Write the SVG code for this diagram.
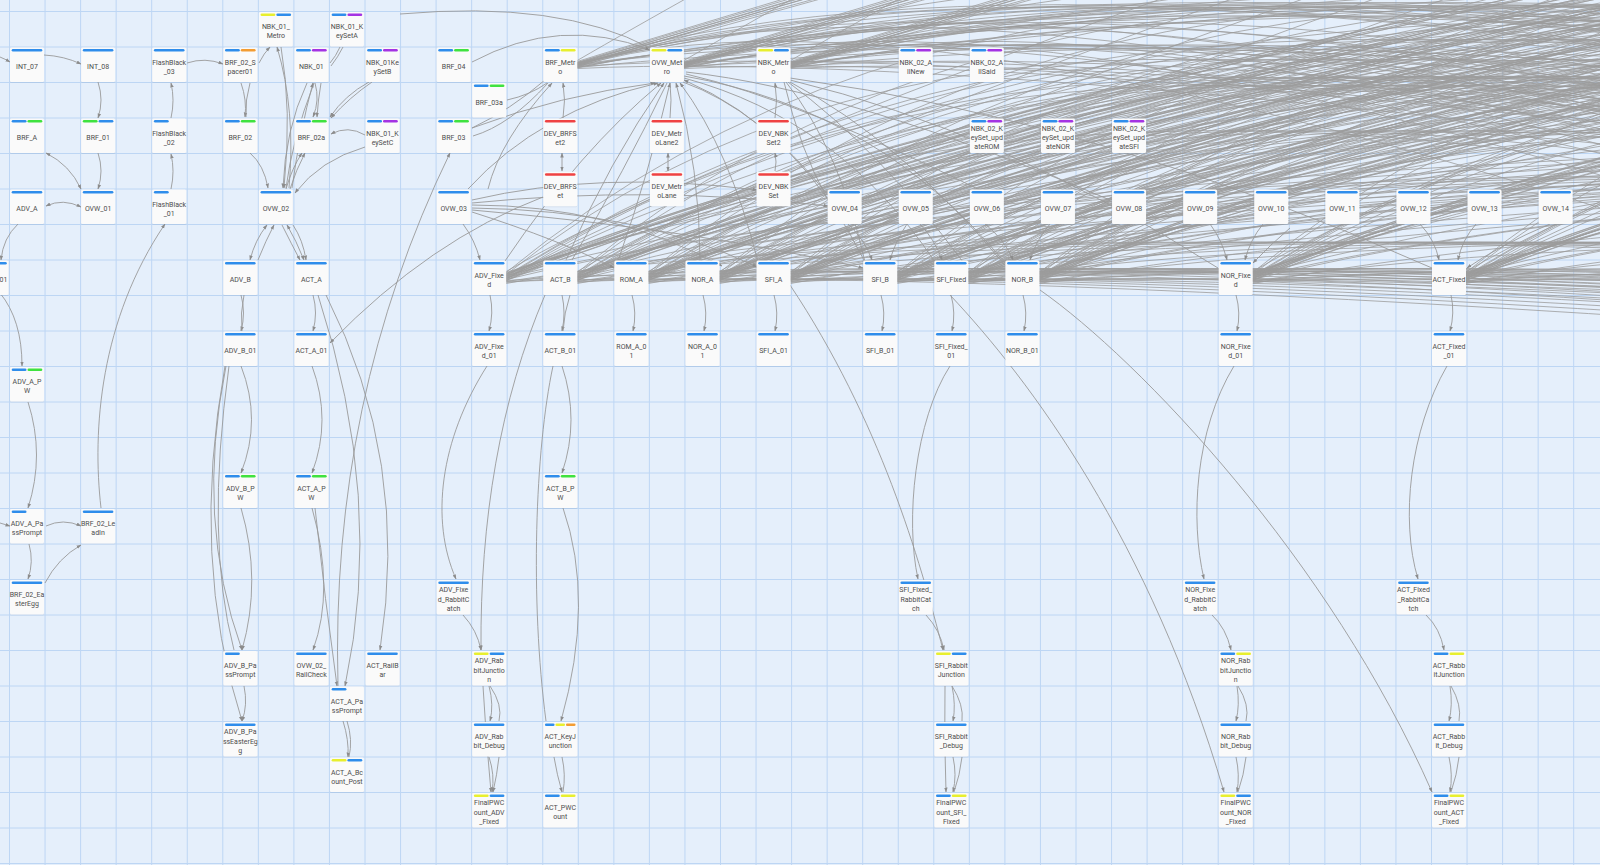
<svg xmlns="http://www.w3.org/2000/svg" width="1600" height="865" viewBox="0 0 1600 865">
<defs>
<style>
.bg{fill:#e5effb}
.grid{fill:none;stroke:#bdd6f4;stroke-width:1}
.n{fill:#fafafa;filter:url(#sh)}
.t{font-family:Roboto,"Noto Sans",sans-serif;font-size:7px;fill:#4d4d4d;text-anchor:middle}
.bl{fill:#2f8deb}.gr{fill:#3fe23f}.ye{fill:#e8ef2e}.pu{fill:#a433e3}.or{fill:#f39c32}.rd{fill:#ef4242}
.a{marker-end:url(#ar)}
.b{marker-start:url(#ar);marker-end:url(#ar)}
</style>
<filter id="sh" x="-10%" y="-10%" width="130%" height="130%"><feDropShadow dx="0" dy="0.6" stdDeviation="0.6" flood-color="#6f88aa" flood-opacity="0.25"/></filter>
<marker id="ar" viewBox="0 0 10 10" refX="9" refY="5" markerWidth="5" markerHeight="5" markerUnits="userSpaceOnUse" orient="auto-start-reverse"><path d="M0,1.5L10,5L0,8.5z" fill="#8c8c8c"/></marker>
<g id="fanL" fill="none">
<path d="M0,-4Q520,-215 2050,-470"/><path d="M0,-3Q540,-225 2100,-480"/><path d="M0,-2Q560,-230 2150,-490"/><path d="M0,-1Q560,-220 2200,-470"/>
<path d="M0,0Q580,-235 2250,-500"/><path d="M0,1Q600,-240 2300,-510"/><path d="M0,2Q520,-200 2100,-430"/><path d="M0,3Q500,-195 2000,-420"/>
<path d="M0,-1Q540,-210 2150,-450"/><path d="M0,1Q570,-228 2250,-485"/><path d="M0,-5Q400,-140 1800,-300"/><path d="M0,-2Q600,-160 2200,-260"/>
<path d="M0,0Q500,-120 2000,-150"/><path d="M0,2Q700,-170 2600,-60"/><path d="M0,4Q600,-90 2400,40"/><path d="M0,5Q500,-40 2000,60"/>
<path d="M0,6Q400,-70 1700,-120"/><path d="M0,-6Q300,-180 1500,-560"/><path d="M0,3Q800,-50 3000,200"/><path d="M0,-3Q350,-130 1400,-380"/>
<path d="M0,4Q700,-20 2600,160"/><path d="M0,-4Q450,-160 1900,-340"/>
<path d="M0,-2Q900,-560 2400,200"/><path d="M0,-1Q800,-500 2200,250"/><path d="M0,1Q1000,-520 2700,300"/><path d="M0,2Q700,-450 2000,150"/>
<path d="M0,3Q900,-420 2400,350"/><path d="M0,-3Q600,-480 1800,100"/><path d="M0,0Q1100,-600 3000,200"/><path d="M0,-5Q650,-540 1900,0"/>
</g>
<g id="fanM" fill="none">
<path d="M0,-3Q250,-80 1400,-420"/><path d="M0,-2Q270,-85 1500,-440"/><path d="M0,-1Q300,-90 1600,-460"/><path d="M0,0Q280,-80 1500,-400"/>
<path d="M0,1Q320,-95 1700,-480"/><path d="M0,2Q260,-70 1300,-360"/><path d="M0,-1Q290,-88 1550,-450"/><path d="M0,1Q310,-92 1650,-470"/>
<path d="M0,-2Q500,-100 1900,-250"/><path d="M0,0Q600,-80 2200,-150"/><path d="M0,2Q700,-120 2400,0"/><path d="M0,3Q800,-150 2600,150"/>
<path d="M0,-1Q900,-200 3000,250"/><path d="M0,4Q500,-20 2000,200"/><path d="M0,1Q400,-60 1800,60"/><path d="M0,-4Q200,-120 900,-500"/>
<path d="M0,3Q1000,-100 3000,350"/><path d="M0,2Q600,-40 2400,250"/>
<path d="M0,0Q500,-150 1800,300"/><path d="M0,1Q600,-180 2200,400"/><path d="M0,-1Q700,-200 2500,300"/><path d="M0,2Q400,-120 1600,350"/>
<path d="M0,0Q800,-220 2800,400"/><path d="M0,-2Q550,-170 2000,150"/><path d="M0,3Q650,-130 2300,500"/>
</g>
</defs>
<rect class="bg" x="0" y="0" width="1600" height="865"/>
<path class="grid" d="M9.5 0V865M45.05 0V865M80.6 0V865M116.15 0V865M151.7 0V865M187.25 0V865M222.8 0V865M258.35 0V865M293.9 0V865M329.45 0V865M365 0V865M400.55 0V865M436.1 0V865M471.65 0V865M507.2 0V865M542.75 0V865M578.3 0V865M613.85 0V865M649.4 0V865M684.95 0V865M720.5 0V865M756.05 0V865M791.6 0V865M827.15 0V865M862.7 0V865M898.25 0V865M933.8 0V865M969.35 0V865M1004.9 0V865M1040.45 0V865M1076 0V865M1111.55 0V865M1147.1 0V865M1182.65 0V865M1218.2 0V865M1253.75 0V865M1289.3 0V865M1324.85 0V865M1360.4 0V865M1395.95 0V865M1431.5 0V865M1467.05 0V865M1502.6 0V865M1538.15 0V865M1573.7 0V865M0 11.5H1600M0 47H1600M0 82.5H1600M0 118H1600M0 153.5H1600M0 189H1600M0 224.5H1600M0 260H1600M0 295.5H1600M0 331H1600M0 366.5H1600M0 402H1600M0 437.5H1600M0 473H1600M0 508.5H1600M0 544H1600M0 579.5H1600M0 615H1600M0 650.5H1600M0 686H1600M0 721.5H1600M0 757H1600M0 792.5H1600M0 828H1600M0 863.5H1600"/>

<g id="connectors" fill="none" stroke="#9a9a9a" stroke-width="0.9">
<g id="bundles" stroke="#9c9c9c" stroke-width="0.8">
<use href="#fanL" x="506.15" y="277.5"/><use href="#fanL" x="577.25" y="277.5"/><use href="#fanL" x="648.35" y="277.5"/><use href="#fanL" x="719.45" y="277.5"/><use href="#fanL" x="790.55" y="277.5"/>
<use href="#fanL" x="897.2" y="277.5"/><use href="#fanL" x="968.3" y="277.5"/><use href="#fanL" x="1039.4" y="277.5"/><use href="#fanL" x="1252.7" y="277.5"/><use href="#fanL" x="1466" y="277.5"/>
<use href="#fanM" x="577.25" y="64.5"/><use href="#fanM" x="683.9" y="64.5"/><use href="#fanM" x="790.55" y="64.5"/>
</g>
<!-- left cluster -->
<path class="a" d="M0,57Q5,59 10,62"/>
<path class="a" d="M44,55Q64,56 81,64"/>
<path class="a" d="M98,82Q104,100 98,118"/>
<path class="a" d="M98,153Q104,171 98,189"/>
<path class="b" d="M46,153Q70,165 81,189"/>
<path class="b" d="M46,206Q63,198 81,207"/>
<path class="a" d="M18,224Q3,238 1,260"/>
<path class="a" d="M171,189Q175,171 171,154"/>
<path class="a" d="M171,118Q175,100 171,83"/>
<path class="a" d="M187,63Q205,57 223,64"/>
<path class="a" d="M259,63Q264,53 270,47"/>
<path class="a" d="M241,83Q247,100 245,117"/>
<path d="M250,83Q245,100 246,117"/>
<path class="a" d="M250,153Q264,165 268,188"/>
<path class="a" d="M289,188Q296,110 277,47"/>
<path class="a" d="M281,47Q292,110 284,188"/>
<path class="a" d="M307,83Q285,130 283,188"/>
<path d="M314,83Q292,140 286,188"/>
<path class="a" d="M292,188Q300,130 313,83"/>
<path class="a" d="M315,83Q320,100 313,117"/>
<path class="a" d="M321,83Q318,100 317,117"/>
<path d="M340,47Q336,56 330,63"/>
<path d="M343,47Q338,57 331,66"/>
<path class="a" d="M369,82Q345,95 330,117"/>
<path class="a" d="M372,82Q350,97 331,118"/>
<path class="a" d="M365,135Q348,125 331,134"/>
<path class="a" d="M365,147Q320,160 295,193"/>
<path class="a" d="M286,189Q292,168 302,153"/>
<path class="a" d="M290,189Q296,170 305,153"/>
<path class="b" d="M267,225Q255,240 250,260"/>
<path class="a" d="M258,260Q266,240 274,225"/>
<path class="a" d="M282,225Q292,245 300,260"/>
<path class="b" d="M287,225Q296,240 304,260"/>
<path class="a" d="M293,225Q303,240 306,260"/>
<path class="a" d="M241,295Q246,313 241,331"/>
<path d="M244,295Q240,313 242,331"/>
<path class="a" d="M313,295Q318,313 313,331"/>
<path class="a" d="M241,366Q262,420 241,473"/>
<path class="a" d="M312,366Q332,420 312,473"/>
<path class="a" d="M226,366Q195,520 242,650"/>
<path class="a" d="M225,366Q190,560 242,721"/>
<path d="M229,366Q205,540 234,650"/>
<path class="a" d="M241,508Q262,580 242,650"/>
<path class="a" d="M244,686Q248,705 242,721"/>
<path class="a" d="M318,295Q385,500 345,686"/>
<path class="a" d="M326,295Q410,460 380,650"/>
<path class="a" d="M312,508Q335,590 313,650"/>
<path class="a" d="M315,508Q325,600 337,686"/>
<path class="a" d="M343,721Q349,740 348,757"/>
<path d="M347,721Q353,740 349,757"/>
<path class="a" d="M338,686Q330,400 450,153"/>
<path class="a" d="M543,197Q430,240 330,343"/>
<path class="a" d="M101,508C92,430 100,320 165,224"/>
<path class="a" d="M46,526Q63,518 81,526"/>
<path class="a" d="M0,523L10,526"/>
<path class="a" d="M28,402Q45,455 28,508"/>
<path class="a" d="M0,293Q22,320 22,366"/>
<path class="a" d="M29,544Q34,562 28,579"/>
<path class="a" d="M45,583Q58,558 81,545"/>
<!-- middle / right trees -->
<path class="a" d="M463,224Q475,240 480,260"/>
<path class="a" d="M490,295Q494,313 489,331"/>
<path class="a" d="M487,366C440,440 430,520 456,579"/>
<path class="a" d="M463,615Q477,630 481,650"/>
<path class="a" d="M545,295C500,400 480,520 481,650"/>
<path class="a" d="M489,686Q494,705 490,721"/>
<path d="M490,686Q503,705 499,721"/>
<path class="a" d="M483,686Q486,740 491,792"/>
<path class="a" d="M489,757Q495,775 492,792"/>
<path class="a" d="M499,757Q497,775 493,792"/>
<path class="a" d="M562,295Q566,313 562,331"/>
<path d="M570,295Q564,313 563,331"/>
<path class="a" d="M562,366Q580,420 562,473"/>
<path d="M553,366C535,450 530,600 546,721"/>
<path class="a" d="M563,508Q595,600 561,721"/>
<path class="a" d="M554,757Q557,775 562,792"/>
<path d="M562,757Q566,775 563,792"/>
<path class="a" d="M632,295Q637,313 633,331"/>
<path class="a" d="M703,295Q708,313 704,331"/>
<path class="a" d="M774,295Q779,313 775,331"/>
<path class="a" d="M881,295Q886,313 882,331"/>
<path class="a" d="M951,295Q956,313 952,331"/>
<path class="a" d="M1023,295Q1028,313 1024,331"/>
<path class="a" d="M1236,295Q1241,313 1237,331"/>
<path class="a" d="M1451,295Q1455,313 1450,331"/>
<path class="a" d="M950,366C915,420 905,520 918,579"/>
<path class="a" d="M790,285C880,420 920,560 943,650"/>
<path class="a" d="M926,615Q940,630 944,650"/>
<path class="a" d="M952,686Q956,705 953,721"/>
<path d="M952,686Q964,705 962,721"/>
<path class="a" d="M945,686Q944,740 946,792"/>
<path class="a" d="M953,757Q957,775 953,792"/>
<path d="M962,757Q960,775 954,792"/>
<path class="a" d="M950,295C1030,380 1150,540 1224,792"/>
<path class="a" d="M1040,290C1140,360 1330,560 1432,792"/>
<path class="a" d="M1234,366C1195,430 1190,520 1204,579"/>
<path class="a" d="M1212,615Q1226,628 1231,650"/>
<path class="a" d="M1237,686Q1240,705 1236,721"/>
<path d="M1238,686Q1250,705 1246,721"/>
<path class="a" d="M1236,757Q1240,775 1237,792"/>
<path d="M1246,757Q1244,775 1238,792"/>
<path class="a" d="M1447,366C1410,430 1400,520 1418,579"/>
<path class="a" d="M1426,615Q1440,628 1444,650"/>
<path class="a" d="M1450,686Q1453,705 1449,721"/>
<path d="M1451,686Q1462,705 1459,721"/>
<path class="a" d="M1449,757Q1453,775 1450,792"/>
<path d="M1459,757Q1457,775 1451,792"/>
<!-- overview to hubs -->
<path class="a" d="M848,224Q865,240 872,260"/>
<path class="a" d="M907,224Q895,242 890,260"/>
<path class="a" d="M920,224Q935,240 942,260"/>
<path class="a" d="M985,224Q1005,240 1013,260"/>
<path class="a" d="M1050,224Q1035,242 1030,260"/>
<path class="a" d="M1210,224Q1222,240 1227,260"/>
<path class="a" d="M1263,224Q1250,240 1245,260"/>
<path class="a" d="M1290,228Q1270,245 1253,263"/>
<path class="a" d="M1420,224Q1435,240 1439,260"/>
<path class="a" d="M1476,224Q1462,240 1458,260"/>
<path class="a" d="M1550,224Q1500,245 1467,268"/>
<!-- dev -->
<path class="b" d="M562,153L562,171"/>
<path class="b" d="M668,153L668,171"/>
<path class="a" d="M775,171Q777,162 775,153"/>
<path class="a" d="M563,118Q566,100 563,83"/>
<path d="M670,83Q672,100 670,118"/>
<path class="a" d="M775,118Q778,100 775,83"/>
<!-- metro fans -->
<path class="a" d="M472,128Q560,95 655,83"/>
<path class="a" d="M468,189Q540,110 658,83"/>
<path class="a" d="M505,261Q580,150 661,83"/>
<path class="a" d="M566,260Q610,160 664,83"/>
<path d="M572,260Q625,170 667,83"/>
<path class="a" d="M618,261Q650,170 670,83"/>
<path class="a" d="M700,260Q700,170 676,83"/>
<path class="a" d="M758,262Q730,150 680,83"/>
<path d="M828,195Q760,110 683,82"/>
<path class="a" d="M865,262Q800,130 684,80"/>
<path d="M935,262Q840,120 684,78"/>
<path d="M1005,263Q880,110 684,76"/>
<path d="M686,74Q800,100 1000,200"/>
<path d="M686,72Q850,90 1110,200"/>
<path d="M788,82Q880,150 963,262"/>
<path d="M790,82Q900,140 1005,265"/>
<path d="M786,82Q840,150 865,262"/>
<path d="M784,82Q800,150 828,200"/>
<path d="M790,80Q1000,130 1218,268"/>
<path d="M790,78Q1100,120 1432,268"/>
<path d="M547,83Q530,95 507,100"/>
<path d="M545,80Q510,110 472,128"/>
<path d="M548,83Q510,125 473,136"/>
<path class="a" d="M488,189Q500,140 552,83"/>
<path class="a" d="M472,62Q560,15 650,50"/>
<path d="M400,14Q560,0 650,48"/>
<path class="a" d="M472,205Q610,205 722,266"/>
<path class="a" d="M472,208Q640,210 757,267"/>
<path class="a" d="M472,203Q650,185 828,206"/>
<path class="a" d="M472,210Q700,230 863,268"/>
<path class="a" d="M472,200Q600,170 757,190"/>
<path class="a" d="M472,212Q560,240 614,268"/>
</g>

<g id="nodes">
<g id="INT_07" transform="translate(9.5,47)"><rect class="n" x="0.5" y="0.5" width="34" height="34.5" rx="1.5"/><rect class="bl" x="2.2" y="2" width="30.6" height="2.6" rx="1.3"/><text class="t" x="17.5" y="22.1">INT_07</text></g>
<g id="INT_08" transform="translate(80.6,47)"><rect class="n" x="0.5" y="0.5" width="34" height="34.5" rx="1.5"/><rect class="bl" x="2.2" y="2" width="30.6" height="2.6" rx="1.3"/><text class="t" x="17.5" y="22.1">INT_08</text></g>
<g id="FlashBlack_03" transform="translate(151.7,47)"><rect class="n" x="0.5" y="0.5" width="34" height="34.5" rx="1.5"/><rect class="bl" x="2.2" y="2" width="30.6" height="2.6" rx="1.3"/><text class="t" x="17.5" y="17.5">FlashBlack<tspan x="17.5" dy="9.2">_03</tspan></text></g>
<g id="BRF_02_Spacer01" transform="translate(222.8,47)"><rect class="n" x="0.5" y="0.5" width="34" height="34.5" rx="1.5"/><rect class="bl" x="2.2" y="2" width="14.8" height="2.6" rx="1.3"/><rect class="or" x="18" y="2" width="14.8" height="2.6" rx="1.3"/><text class="t" x="17.5" y="17.5">BRF_02_S<tspan x="17.5" dy="9.2">pacer01</tspan></text></g>
<g id="NBK_01_Metro" transform="translate(258.35,11.5)"><rect class="n" x="0.5" y="0.5" width="34" height="34.5" rx="1.5"/><rect class="ye" x="2.2" y="2" width="14.8" height="2.6" rx="1.3"/><rect class="bl" x="18" y="2" width="14.8" height="2.6" rx="1.3"/><text class="t" x="17.5" y="17.5">NBK_01_<tspan x="17.5" dy="9.2">Metro</tspan></text></g>
<g id="NBK_01" transform="translate(293.9,47)"><rect class="n" x="0.5" y="0.5" width="34" height="34.5" rx="1.5"/><rect class="bl" x="2.2" y="2" width="14.8" height="2.6" rx="1.3"/><rect class="pu" x="18" y="2" width="14.8" height="2.6" rx="1.3"/><text class="t" x="17.5" y="22.1">NBK_01</text></g>
<g id="NBK_01_KeySetA" transform="translate(329.45,11.5)"><rect class="n" x="0.5" y="0.5" width="34" height="34.5" rx="1.5"/><rect class="bl" x="2.2" y="2" width="14.8" height="2.6" rx="1.3"/><rect class="pu" x="18" y="2" width="14.8" height="2.6" rx="1.3"/><text class="t" x="17.5" y="17.5">NBK_01_K<tspan x="17.5" dy="9.2">eySetA</tspan></text></g>
<g id="NBK_01KeySetB" transform="translate(365,47)"><rect class="n" x="0.5" y="0.5" width="34" height="34.5" rx="1.5"/><rect class="bl" x="2.2" y="2" width="14.8" height="2.6" rx="1.3"/><rect class="pu" x="18" y="2" width="14.8" height="2.6" rx="1.3"/><text class="t" x="17.5" y="17.5">NBK_01Ke<tspan x="17.5" dy="9.2">ySetB</tspan></text></g>
<g id="BRF_04" transform="translate(436.1,47)"><rect class="n" x="0.5" y="0.5" width="34" height="34.5" rx="1.5"/><rect class="bl" x="2.2" y="2" width="14.8" height="2.6" rx="1.3"/><rect class="gr" x="18" y="2" width="14.8" height="2.6" rx="1.3"/><text class="t" x="17.5" y="22.1">BRF_04</text></g>
<g id="BRF_Metro" transform="translate(542.75,47)"><rect class="n" x="0.5" y="0.5" width="34" height="34.5" rx="1.5"/><rect class="bl" x="2.2" y="2" width="14.8" height="2.6" rx="1.3"/><rect class="ye" x="18" y="2" width="14.8" height="2.6" rx="1.3"/><text class="t" x="17.5" y="17.5">BRF_Metr<tspan x="17.5" dy="9.2">o</tspan></text></g>
<g id="OVW_Metro" transform="translate(649.4,47)"><rect class="n" x="0.5" y="0.5" width="34" height="34.5" rx="1.5"/><rect class="ye" x="2.2" y="2" width="14.8" height="2.6" rx="1.3"/><rect class="bl" x="18" y="2" width="14.8" height="2.6" rx="1.3"/><text class="t" x="17.5" y="17.5">OVW_Met<tspan x="17.5" dy="9.2">ro</tspan></text></g>
<g id="NBK_Metro" transform="translate(756.05,47)"><rect class="n" x="0.5" y="0.5" width="34" height="34.5" rx="1.5"/><rect class="ye" x="2.2" y="2" width="14.8" height="2.6" rx="1.3"/><rect class="bl" x="18" y="2" width="14.8" height="2.6" rx="1.3"/><text class="t" x="17.5" y="17.5">NBK_Metr<tspan x="17.5" dy="9.2">o</tspan></text></g>
<g id="NBK_02_AllNew" transform="translate(898.25,47)"><rect class="n" x="0.5" y="0.5" width="34" height="34.5" rx="1.5"/><rect class="bl" x="2.2" y="2" width="14.8" height="2.6" rx="1.3"/><rect class="pu" x="18" y="2" width="14.8" height="2.6" rx="1.3"/><text class="t" x="17.5" y="17.5">NBK_02_A<tspan x="17.5" dy="9.2">llNew</tspan></text></g>
<g id="NBK_02_AllSaid" transform="translate(969.35,47)"><rect class="n" x="0.5" y="0.5" width="34" height="34.5" rx="1.5"/><rect class="bl" x="2.2" y="2" width="14.8" height="2.6" rx="1.3"/><rect class="pu" x="18" y="2" width="14.8" height="2.6" rx="1.3"/><text class="t" x="17.5" y="17.5">NBK_02_A<tspan x="17.5" dy="9.2">llSaid</tspan></text></g>
<g id="BRF_03a" transform="translate(471.65,82.5)"><rect class="n" x="0.5" y="0.5" width="34" height="34.5" rx="1.5"/><rect class="bl" x="2.2" y="2" width="14.8" height="2.6" rx="1.3"/><rect class="gr" x="18" y="2" width="14.8" height="2.6" rx="1.3"/><text class="t" x="17.5" y="22.1">BRF_03a</text></g>
<g id="BRF_A" transform="translate(9.5,118)"><rect class="n" x="0.5" y="0.5" width="34" height="34.5" rx="1.5"/><rect class="bl" x="2.2" y="2" width="14.8" height="2.6" rx="1.3"/><rect class="gr" x="18" y="2" width="14.8" height="2.6" rx="1.3"/><text class="t" x="17.5" y="22.1">BRF_A</text></g>
<g id="BRF_01" transform="translate(80.6,118)"><rect class="n" x="0.5" y="0.5" width="34" height="34.5" rx="1.5"/><rect class="gr" x="2.2" y="2" width="14.8" height="2.6" rx="1.3"/><rect class="bl" x="18" y="2" width="14.8" height="2.6" rx="1.3"/><text class="t" x="17.5" y="22.1">BRF_01</text></g>
<g id="FlashBlack_02" transform="translate(151.7,118)"><rect class="n" x="0.5" y="0.5" width="34" height="34.5" rx="1.5"/><rect class="bl" x="2.2" y="2" width="14.8" height="2.6" rx="1.3"/><text class="t" x="17.5" y="17.5">FlashBlack<tspan x="17.5" dy="9.2">_02</tspan></text></g>
<g id="BRF_02" transform="translate(222.8,118)"><rect class="n" x="0.5" y="0.5" width="34" height="34.5" rx="1.5"/><rect class="bl" x="2.2" y="2" width="14.8" height="2.6" rx="1.3"/><rect class="gr" x="18" y="2" width="14.8" height="2.6" rx="1.3"/><text class="t" x="17.5" y="22.1">BRF_02</text></g>
<g id="BRF_02a" transform="translate(293.9,118)"><rect class="n" x="0.5" y="0.5" width="34" height="34.5" rx="1.5"/><rect class="bl" x="2.2" y="2" width="14.8" height="2.6" rx="1.3"/><rect class="gr" x="18" y="2" width="14.8" height="2.6" rx="1.3"/><text class="t" x="17.5" y="22.1">BRF_02a</text></g>
<g id="NBK_01_KeySetC" transform="translate(365,118)"><rect class="n" x="0.5" y="0.5" width="34" height="34.5" rx="1.5"/><rect class="bl" x="2.2" y="2" width="14.8" height="2.6" rx="1.3"/><rect class="pu" x="18" y="2" width="14.8" height="2.6" rx="1.3"/><text class="t" x="17.5" y="17.5">NBK_01_K<tspan x="17.5" dy="9.2">eySetC</tspan></text></g>
<g id="BRF_03" transform="translate(436.1,118)"><rect class="n" x="0.5" y="0.5" width="34" height="34.5" rx="1.5"/><rect class="bl" x="2.2" y="2" width="14.8" height="2.6" rx="1.3"/><rect class="gr" x="18" y="2" width="14.8" height="2.6" rx="1.3"/><text class="t" x="17.5" y="22.1">BRF_03</text></g>
<g id="DEV_BRFSet2" transform="translate(542.75,118)"><rect class="n" x="0.5" y="0.5" width="34" height="34.5" rx="1.5"/><rect class="rd" x="2.2" y="2" width="30.6" height="2.6" rx="1.3"/><text class="t" x="17.5" y="17.5">DEV_BRFS<tspan x="17.5" dy="9.2">et2</tspan></text></g>
<g id="DEV_MetroLane2" transform="translate(649.4,118)"><rect class="n" x="0.5" y="0.5" width="34" height="34.5" rx="1.5"/><rect class="rd" x="2.2" y="2" width="30.6" height="2.6" rx="1.3"/><text class="t" x="17.5" y="17.5">DEV_Metr<tspan x="17.5" dy="9.2">oLane2</tspan></text></g>
<g id="DEV_NBKSet2" transform="translate(756.05,118)"><rect class="n" x="0.5" y="0.5" width="34" height="34.5" rx="1.5"/><rect class="rd" x="2.2" y="2" width="30.6" height="2.6" rx="1.3"/><text class="t" x="17.5" y="17.5">DEV_NBK<tspan x="17.5" dy="9.2">Set2</tspan></text></g>
<g id="NBK_02_KeySet_updateROM" transform="translate(969.35,118)"><rect class="n" x="0.5" y="0.5" width="34" height="34.5" rx="1.5"/><rect class="bl" x="2.2" y="2" width="14.8" height="2.6" rx="1.3"/><rect class="pu" x="18" y="2" width="14.8" height="2.6" rx="1.3"/><text class="t" x="17.5" y="12.9">NBK_02_K<tspan x="17.5" dy="9.2">eySet_upd</tspan><tspan x="17.5" dy="9.2">ateROM</tspan></text></g>
<g id="NBK_02_KeySet_updateNOR" transform="translate(1040.45,118)"><rect class="n" x="0.5" y="0.5" width="34" height="34.5" rx="1.5"/><rect class="bl" x="2.2" y="2" width="14.8" height="2.6" rx="1.3"/><rect class="pu" x="18" y="2" width="14.8" height="2.6" rx="1.3"/><text class="t" x="17.5" y="12.9">NBK_02_K<tspan x="17.5" dy="9.2">eySet_upd</tspan><tspan x="17.5" dy="9.2">ateNOR</tspan></text></g>
<g id="NBK_02_KeySet_updateSFI" transform="translate(1111.55,118)"><rect class="n" x="0.5" y="0.5" width="34" height="34.5" rx="1.5"/><rect class="bl" x="2.2" y="2" width="14.8" height="2.6" rx="1.3"/><rect class="pu" x="18" y="2" width="14.8" height="2.6" rx="1.3"/><text class="t" x="17.5" y="12.9">NBK_02_K<tspan x="17.5" dy="9.2">eySet_upd</tspan><tspan x="17.5" dy="9.2">ateSFI</tspan></text></g>
<g id="DEV_BRFSet" transform="translate(542.75,171.25)"><rect class="n" x="0.5" y="0.5" width="34" height="34.5" rx="1.5"/><rect class="rd" x="2.2" y="2" width="30.6" height="2.6" rx="1.3"/><text class="t" x="17.5" y="17.5">DEV_BRFS<tspan x="17.5" dy="9.2">et</tspan></text></g>
<g id="DEV_MetroLane" transform="translate(649.4,171.25)"><rect class="n" x="0.5" y="0.5" width="34" height="34.5" rx="1.5"/><rect class="rd" x="2.2" y="2" width="30.6" height="2.6" rx="1.3"/><text class="t" x="17.5" y="17.5">DEV_Metr<tspan x="17.5" dy="9.2">oLane</tspan></text></g>
<g id="DEV_NBKSet" transform="translate(756.05,171.25)"><rect class="n" x="0.5" y="0.5" width="34" height="34.5" rx="1.5"/><rect class="rd" x="2.2" y="2" width="30.6" height="2.6" rx="1.3"/><text class="t" x="17.5" y="17.5">DEV_NBK<tspan x="17.5" dy="9.2">Set</tspan></text></g>
<g id="ADV_A" transform="translate(9.5,189)"><rect class="n" x="0.5" y="0.5" width="34" height="34.5" rx="1.5"/><rect class="bl" x="2.2" y="2" width="30.6" height="2.6" rx="1.3"/><text class="t" x="17.5" y="22.1">ADV_A</text></g>
<g id="OVW_01" transform="translate(80.6,189)"><rect class="n" x="0.5" y="0.5" width="34" height="34.5" rx="1.5"/><rect class="bl" x="2.2" y="2" width="30.6" height="2.6" rx="1.3"/><text class="t" x="17.5" y="22.1">OVW_01</text></g>
<g id="FlashBlack_01" transform="translate(151.7,189)"><rect class="n" x="0.5" y="0.5" width="34" height="34.5" rx="1.5"/><rect class="bl" x="2.2" y="2" width="14.8" height="2.6" rx="1.3"/><text class="t" x="17.5" y="17.5">FlashBlack<tspan x="17.5" dy="9.2">_01</tspan></text></g>
<g id="OVW_02" transform="translate(258.35,189)"><rect class="n" x="0.5" y="0.5" width="34" height="34.5" rx="1.5"/><rect class="bl" x="2.2" y="2" width="30.6" height="2.6" rx="1.3"/><text class="t" x="17.5" y="22.1">OVW_02</text></g>
<g id="OVW_03" transform="translate(436.1,189)"><rect class="n" x="0.5" y="0.5" width="34" height="34.5" rx="1.5"/><rect class="bl" x="2.2" y="2" width="30.6" height="2.6" rx="1.3"/><text class="t" x="17.5" y="22.1">OVW_03</text></g>
<g id="OVW_04" transform="translate(827.15,189)"><rect class="n" x="0.5" y="0.5" width="34" height="34.5" rx="1.5"/><rect class="bl" x="2.2" y="2" width="30.6" height="2.6" rx="1.3"/><text class="t" x="17.5" y="22.1">OVW_04</text></g>
<g id="OVW_05" transform="translate(898.25,189)"><rect class="n" x="0.5" y="0.5" width="34" height="34.5" rx="1.5"/><rect class="bl" x="2.2" y="2" width="30.6" height="2.6" rx="1.3"/><text class="t" x="17.5" y="22.1">OVW_05</text></g>
<g id="OVW_06" transform="translate(969.35,189)"><rect class="n" x="0.5" y="0.5" width="34" height="34.5" rx="1.5"/><rect class="bl" x="2.2" y="2" width="30.6" height="2.6" rx="1.3"/><text class="t" x="17.5" y="22.1">OVW_06</text></g>
<g id="OVW_07" transform="translate(1040.45,189)"><rect class="n" x="0.5" y="0.5" width="34" height="34.5" rx="1.5"/><rect class="bl" x="2.2" y="2" width="30.6" height="2.6" rx="1.3"/><text class="t" x="17.5" y="22.1">OVW_07</text></g>
<g id="OVW_08" transform="translate(1111.55,189)"><rect class="n" x="0.5" y="0.5" width="34" height="34.5" rx="1.5"/><rect class="bl" x="2.2" y="2" width="30.6" height="2.6" rx="1.3"/><text class="t" x="17.5" y="22.1">OVW_08</text></g>
<g id="OVW_09" transform="translate(1182.65,189)"><rect class="n" x="0.5" y="0.5" width="34" height="34.5" rx="1.5"/><rect class="bl" x="2.2" y="2" width="30.6" height="2.6" rx="1.3"/><text class="t" x="17.5" y="22.1">OVW_09</text></g>
<g id="OVW_10" transform="translate(1253.75,189)"><rect class="n" x="0.5" y="0.5" width="34" height="34.5" rx="1.5"/><rect class="bl" x="2.2" y="2" width="30.6" height="2.6" rx="1.3"/><text class="t" x="17.5" y="22.1">OVW_10</text></g>
<g id="OVW_11" transform="translate(1324.85,189)"><rect class="n" x="0.5" y="0.5" width="34" height="34.5" rx="1.5"/><rect class="bl" x="2.2" y="2" width="30.6" height="2.6" rx="1.3"/><text class="t" x="17.5" y="22.1">OVW_11</text></g>
<g id="OVW_12" transform="translate(1395.95,189)"><rect class="n" x="0.5" y="0.5" width="34" height="34.5" rx="1.5"/><rect class="bl" x="2.2" y="2" width="30.6" height="2.6" rx="1.3"/><text class="t" x="17.5" y="22.1">OVW_12</text></g>
<g id="OVW_13" transform="translate(1467.05,189)"><rect class="n" x="0.5" y="0.5" width="34" height="34.5" rx="1.5"/><rect class="bl" x="2.2" y="2" width="30.6" height="2.6" rx="1.3"/><text class="t" x="17.5" y="22.1">OVW_13</text></g>
<g id="OVW_14" transform="translate(1538.15,189)"><rect class="n" x="0.5" y="0.5" width="34" height="34.5" rx="1.5"/><rect class="bl" x="2.2" y="2" width="30.6" height="2.6" rx="1.3"/><text class="t" x="17.5" y="22.1">OVW_14</text></g>
<g id="ADV_A_01" transform="translate(-26.05,260)"><rect class="n" x="0.5" y="0.5" width="34" height="34.5" rx="1.5"/><rect class="bl" x="2.2" y="2" width="30.6" height="2.6" rx="1.3"/><text class="t" x="33.4" y="22.1" style="text-anchor:end">01</text></g>
<g id="ADV_B" transform="translate(222.8,260)"><rect class="n" x="0.5" y="0.5" width="34" height="34.5" rx="1.5"/><rect class="bl" x="2.2" y="2" width="30.6" height="2.6" rx="1.3"/><text class="t" x="17.5" y="22.1">ADV_B</text></g>
<g id="ACT_A" transform="translate(293.9,260)"><rect class="n" x="0.5" y="0.5" width="34" height="34.5" rx="1.5"/><rect class="bl" x="2.2" y="2" width="30.6" height="2.6" rx="1.3"/><text class="t" x="17.5" y="22.1">ACT_A</text></g>
<g id="ADV_Fixed" transform="translate(471.65,260)"><rect class="n" x="0.5" y="0.5" width="34" height="34.5" rx="1.5"/><rect class="bl" x="2.2" y="2" width="30.6" height="2.6" rx="1.3"/><text class="t" x="17.5" y="17.5">ADV_Fixe<tspan x="17.5" dy="9.2">d</tspan></text></g>
<g id="ACT_B" transform="translate(542.75,260)"><rect class="n" x="0.5" y="0.5" width="34" height="34.5" rx="1.5"/><rect class="bl" x="2.2" y="2" width="30.6" height="2.6" rx="1.3"/><text class="t" x="17.5" y="22.1">ACT_B</text></g>
<g id="ROM_A" transform="translate(613.85,260)"><rect class="n" x="0.5" y="0.5" width="34" height="34.5" rx="1.5"/><rect class="bl" x="2.2" y="2" width="30.6" height="2.6" rx="1.3"/><text class="t" x="17.5" y="22.1">ROM_A</text></g>
<g id="NOR_A" transform="translate(684.95,260)"><rect class="n" x="0.5" y="0.5" width="34" height="34.5" rx="1.5"/><rect class="bl" x="2.2" y="2" width="30.6" height="2.6" rx="1.3"/><text class="t" x="17.5" y="22.1">NOR_A</text></g>
<g id="SFI_A" transform="translate(756.05,260)"><rect class="n" x="0.5" y="0.5" width="34" height="34.5" rx="1.5"/><rect class="bl" x="2.2" y="2" width="30.6" height="2.6" rx="1.3"/><text class="t" x="17.5" y="22.1">SFI_A</text></g>
<g id="SFI_B" transform="translate(862.7,260)"><rect class="n" x="0.5" y="0.5" width="34" height="34.5" rx="1.5"/><rect class="bl" x="2.2" y="2" width="30.6" height="2.6" rx="1.3"/><text class="t" x="17.5" y="22.1">SFI_B</text></g>
<g id="SFI_Fixed" transform="translate(933.8,260)"><rect class="n" x="0.5" y="0.5" width="34" height="34.5" rx="1.5"/><rect class="bl" x="2.2" y="2" width="30.6" height="2.6" rx="1.3"/><text class="t" x="17.5" y="22.1">SFI_Fixed</text></g>
<g id="NOR_B" transform="translate(1004.9,260)"><rect class="n" x="0.5" y="0.5" width="34" height="34.5" rx="1.5"/><rect class="bl" x="2.2" y="2" width="30.6" height="2.6" rx="1.3"/><text class="t" x="17.5" y="22.1">NOR_B</text></g>
<g id="NOR_Fixed" transform="translate(1218.2,260)"><rect class="n" x="0.5" y="0.5" width="34" height="34.5" rx="1.5"/><rect class="bl" x="2.2" y="2" width="30.6" height="2.6" rx="1.3"/><text class="t" x="17.5" y="17.5">NOR_Fixe<tspan x="17.5" dy="9.2">d</tspan></text></g>
<g id="ACT_Fixed" transform="translate(1431.5,260)"><rect class="n" x="0.5" y="0.5" width="34" height="34.5" rx="1.5"/><rect class="bl" x="2.2" y="2" width="30.6" height="2.6" rx="1.3"/><text class="t" x="17.5" y="22.1">ACT_Fixed</text></g>
<g id="ADV_B_01" transform="translate(222.8,331)"><rect class="n" x="0.5" y="0.5" width="34" height="34.5" rx="1.5"/><rect class="bl" x="2.2" y="2" width="30.6" height="2.6" rx="1.3"/><text class="t" x="17.5" y="22.1">ADV_B_01</text></g>
<g id="ACT_A_01" transform="translate(293.9,331)"><rect class="n" x="0.5" y="0.5" width="34" height="34.5" rx="1.5"/><rect class="bl" x="2.2" y="2" width="30.6" height="2.6" rx="1.3"/><text class="t" x="17.5" y="22.1">ACT_A_01</text></g>
<g id="ADV_Fixed_01" transform="translate(471.65,331)"><rect class="n" x="0.5" y="0.5" width="34" height="34.5" rx="1.5"/><rect class="bl" x="2.2" y="2" width="30.6" height="2.6" rx="1.3"/><text class="t" x="17.5" y="17.5">ADV_Fixe<tspan x="17.5" dy="9.2">d_01</tspan></text></g>
<g id="ACT_B_01" transform="translate(542.75,331)"><rect class="n" x="0.5" y="0.5" width="34" height="34.5" rx="1.5"/><rect class="bl" x="2.2" y="2" width="30.6" height="2.6" rx="1.3"/><text class="t" x="17.5" y="22.1">ACT_B_01</text></g>
<g id="ROM_A_01" transform="translate(613.85,331)"><rect class="n" x="0.5" y="0.5" width="34" height="34.5" rx="1.5"/><rect class="bl" x="2.2" y="2" width="30.6" height="2.6" rx="1.3"/><text class="t" x="17.5" y="17.5">ROM_A_0<tspan x="17.5" dy="9.2">1</tspan></text></g>
<g id="NOR_A_01" transform="translate(684.95,331)"><rect class="n" x="0.5" y="0.5" width="34" height="34.5" rx="1.5"/><rect class="bl" x="2.2" y="2" width="30.6" height="2.6" rx="1.3"/><text class="t" x="17.5" y="17.5">NOR_A_0<tspan x="17.5" dy="9.2">1</tspan></text></g>
<g id="SFI_A_01" transform="translate(756.05,331)"><rect class="n" x="0.5" y="0.5" width="34" height="34.5" rx="1.5"/><rect class="bl" x="2.2" y="2" width="30.6" height="2.6" rx="1.3"/><text class="t" x="17.5" y="22.1">SFI_A_01</text></g>
<g id="SFI_B_01" transform="translate(862.7,331)"><rect class="n" x="0.5" y="0.5" width="34" height="34.5" rx="1.5"/><rect class="bl" x="2.2" y="2" width="30.6" height="2.6" rx="1.3"/><text class="t" x="17.5" y="22.1">SFI_B_01</text></g>
<g id="SFI_Fixed_01" transform="translate(933.8,331)"><rect class="n" x="0.5" y="0.5" width="34" height="34.5" rx="1.5"/><rect class="bl" x="2.2" y="2" width="30.6" height="2.6" rx="1.3"/><text class="t" x="17.5" y="17.5">SFI_Fixed_<tspan x="17.5" dy="9.2">01</tspan></text></g>
<g id="NOR_B_01" transform="translate(1004.9,331)"><rect class="n" x="0.5" y="0.5" width="34" height="34.5" rx="1.5"/><rect class="bl" x="2.2" y="2" width="30.6" height="2.6" rx="1.3"/><text class="t" x="17.5" y="22.1">NOR_B_01</text></g>
<g id="NOR_Fixed_01" transform="translate(1218.2,331)"><rect class="n" x="0.5" y="0.5" width="34" height="34.5" rx="1.5"/><rect class="bl" x="2.2" y="2" width="30.6" height="2.6" rx="1.3"/><text class="t" x="17.5" y="17.5">NOR_Fixe<tspan x="17.5" dy="9.2">d_01</tspan></text></g>
<g id="ACT_Fixed_01" transform="translate(1431.5,331)"><rect class="n" x="0.5" y="0.5" width="34" height="34.5" rx="1.5"/><rect class="bl" x="2.2" y="2" width="30.6" height="2.6" rx="1.3"/><text class="t" x="17.5" y="17.5">ACT_Fixed<tspan x="17.5" dy="9.2">_01</tspan></text></g>
<g id="ADV_A_PW" transform="translate(9.5,366.5)"><rect class="n" x="0.5" y="0.5" width="34" height="34.5" rx="1.5"/><rect class="bl" x="2.2" y="2" width="14.8" height="2.6" rx="1.3"/><rect class="gr" x="18" y="2" width="14.8" height="2.6" rx="1.3"/><text class="t" x="17.5" y="17.5">ADV_A_P<tspan x="17.5" dy="9.2">W</tspan></text></g>
<g id="ADV_B_PW" transform="translate(222.8,473)"><rect class="n" x="0.5" y="0.5" width="34" height="34.5" rx="1.5"/><rect class="bl" x="2.2" y="2" width="14.8" height="2.6" rx="1.3"/><rect class="gr" x="18" y="2" width="14.8" height="2.6" rx="1.3"/><text class="t" x="17.5" y="17.5">ADV_B_P<tspan x="17.5" dy="9.2">W</tspan></text></g>
<g id="ACT_A_PW" transform="translate(293.9,473)"><rect class="n" x="0.5" y="0.5" width="34" height="34.5" rx="1.5"/><rect class="bl" x="2.2" y="2" width="14.8" height="2.6" rx="1.3"/><rect class="gr" x="18" y="2" width="14.8" height="2.6" rx="1.3"/><text class="t" x="17.5" y="17.5">ACT_A_P<tspan x="17.5" dy="9.2">W</tspan></text></g>
<g id="ACT_B_PW" transform="translate(542.75,473)"><rect class="n" x="0.5" y="0.5" width="34" height="34.5" rx="1.5"/><rect class="bl" x="2.2" y="2" width="14.8" height="2.6" rx="1.3"/><rect class="gr" x="18" y="2" width="14.8" height="2.6" rx="1.3"/><text class="t" x="17.5" y="17.5">ACT_B_P<tspan x="17.5" dy="9.2">W</tspan></text></g>
<g id="ADV_A_PassPrompt" transform="translate(9.5,508.5)"><rect class="n" x="0.5" y="0.5" width="34" height="34.5" rx="1.5"/><rect class="bl" x="2.2" y="2" width="14.8" height="2.6" rx="1.3"/><text class="t" x="17.5" y="17.5">ADV_A_Pa<tspan x="17.5" dy="9.2">ssPrompt</tspan></text></g>
<g id="BRF_02_LeadIn" transform="translate(80.6,508.5)"><rect class="n" x="0.5" y="0.5" width="34" height="34.5" rx="1.5"/><rect class="bl" x="2.2" y="2" width="30.6" height="2.6" rx="1.3"/><text class="t" x="17.5" y="17.5">BRF_02_Le<tspan x="17.5" dy="9.2">adIn</tspan></text></g>
<g id="BRF_02_EasterEgg" transform="translate(9.5,579.5)"><rect class="n" x="0.5" y="0.5" width="34" height="34.5" rx="1.5"/><rect class="bl" x="2.2" y="2" width="30.6" height="2.6" rx="1.3"/><text class="t" x="17.5" y="17.5">BRF_02_Ea<tspan x="17.5" dy="9.2">sterEgg</tspan></text></g>
<g id="ADV_Fixed_RabbitCatch" transform="translate(436.1,579.5)"><rect class="n" x="0.5" y="0.5" width="34" height="34.5" rx="1.5"/><rect class="bl" x="2.2" y="2" width="30.6" height="2.6" rx="1.3"/><text class="t" x="17.5" y="12.9">ADV_Fixe<tspan x="17.5" dy="9.2">d_RabbitC</tspan><tspan x="17.5" dy="9.2">atch</tspan></text></g>
<g id="SFI_Fixed_RabbitCatch" transform="translate(898.25,579.5)"><rect class="n" x="0.5" y="0.5" width="34" height="34.5" rx="1.5"/><rect class="bl" x="2.2" y="2" width="30.6" height="2.6" rx="1.3"/><text class="t" x="17.5" y="12.9">SFI_Fixed_<tspan x="17.5" dy="9.2">RabbitCat</tspan><tspan x="17.5" dy="9.2">ch</tspan></text></g>
<g id="NOR_Fixed_RabbitCatch" transform="translate(1182.65,579.5)"><rect class="n" x="0.5" y="0.5" width="34" height="34.5" rx="1.5"/><rect class="bl" x="2.2" y="2" width="30.6" height="2.6" rx="1.3"/><text class="t" x="17.5" y="12.9">NOR_Fixe<tspan x="17.5" dy="9.2">d_RabbitC</tspan><tspan x="17.5" dy="9.2">atch</tspan></text></g>
<g id="ACT_Fixed_RabbitCatch" transform="translate(1395.95,579.5)"><rect class="n" x="0.5" y="0.5" width="34" height="34.5" rx="1.5"/><rect class="bl" x="2.2" y="2" width="30.6" height="2.6" rx="1.3"/><text class="t" x="17.5" y="12.9">ACT_Fixed<tspan x="17.5" dy="9.2">_RabbitCa</tspan><tspan x="17.5" dy="9.2">tch</tspan></text></g>
<g id="ADV_B_PassPrompt" transform="translate(222.8,650.5)"><rect class="n" x="0.5" y="0.5" width="34" height="34.5" rx="1.5"/><rect class="bl" x="2.2" y="2" width="14.8" height="2.6" rx="1.3"/><text class="t" x="17.5" y="17.5">ADV_B_Pa<tspan x="17.5" dy="9.2">ssPrompt</tspan></text></g>
<g id="OVW_02_RailCheck" transform="translate(293.9,650.5)"><rect class="n" x="0.5" y="0.5" width="34" height="34.5" rx="1.5"/><rect class="bl" x="2.2" y="2" width="30.6" height="2.6" rx="1.3"/><text class="t" x="17.5" y="17.5">OVW_02_<tspan x="17.5" dy="9.2">RailCheck</tspan></text></g>
<g id="ACT_RailBar" transform="translate(365,650.5)"><rect class="n" x="0.5" y="0.5" width="34" height="34.5" rx="1.5"/><rect class="bl" x="2.2" y="2" width="30.6" height="2.6" rx="1.3"/><text class="t" x="17.5" y="17.5">ACT_RailB<tspan x="17.5" dy="9.2">ar</tspan></text></g>
<g id="ADV_RabbitJunction" transform="translate(471.65,650.5)"><rect class="n" x="0.5" y="0.5" width="34" height="34.5" rx="1.5"/><rect class="ye" x="2.2" y="2" width="14.8" height="2.6" rx="1.3"/><rect class="bl" x="18" y="2" width="14.8" height="2.6" rx="1.3"/><text class="t" x="17.5" y="12.9">ADV_Rab<tspan x="17.5" dy="9.2">bitJunctio</tspan><tspan x="17.5" dy="9.2">n</tspan></text></g>
<g id="SFI_RabbitJunction" transform="translate(933.8,650.5)"><rect class="n" x="0.5" y="0.5" width="34" height="34.5" rx="1.5"/><rect class="ye" x="2.2" y="2" width="14.8" height="2.6" rx="1.3"/><rect class="bl" x="18" y="2" width="14.8" height="2.6" rx="1.3"/><text class="t" x="17.5" y="17.5">SFI_Rabbit<tspan x="17.5" dy="9.2">Junction</tspan></text></g>
<g id="NOR_RabbitJunction" transform="translate(1218.2,650.5)"><rect class="n" x="0.5" y="0.5" width="34" height="34.5" rx="1.5"/><rect class="bl" x="2.2" y="2" width="14.8" height="2.6" rx="1.3"/><rect class="ye" x="18" y="2" width="14.8" height="2.6" rx="1.3"/><text class="t" x="17.5" y="12.9">NOR_Rab<tspan x="17.5" dy="9.2">bitJunctio</tspan><tspan x="17.5" dy="9.2">n</tspan></text></g>
<g id="ACT_RabbitJunction" transform="translate(1431.5,650.5)"><rect class="n" x="0.5" y="0.5" width="34" height="34.5" rx="1.5"/><rect class="bl" x="2.2" y="2" width="14.8" height="2.6" rx="1.3"/><rect class="ye" x="18" y="2" width="14.8" height="2.6" rx="1.3"/><text class="t" x="17.5" y="17.5">ACT_Rabb<tspan x="17.5" dy="9.2">itJunction</tspan></text></g>
<g id="ACT_A_PassPrompt" transform="translate(329.45,686)"><rect class="n" x="0.5" y="0.5" width="34" height="34.5" rx="1.5"/><rect class="bl" x="2.2" y="2" width="14.8" height="2.6" rx="1.3"/><text class="t" x="17.5" y="17.5">ACT_A_Pa<tspan x="17.5" dy="9.2">ssPrompt</tspan></text></g>
<g id="ADV_B_PassEasterEgg" transform="translate(222.8,721.5)"><rect class="n" x="0.5" y="0.5" width="34" height="34.5" rx="1.5"/><rect class="bl" x="2.2" y="2" width="30.6" height="2.6" rx="1.3"/><text class="t" x="17.5" y="12.9">ADV_B_Pa<tspan x="17.5" dy="9.2">ssEasterEg</tspan><tspan x="17.5" dy="9.2">g</tspan></text></g>
<g id="ADV_Rabbit_Debug" transform="translate(471.65,721.5)"><rect class="n" x="0.5" y="0.5" width="34" height="34.5" rx="1.5"/><rect class="bl" x="2.2" y="2" width="30.6" height="2.6" rx="1.3"/><text class="t" x="17.5" y="17.5">ADV_Rab<tspan x="17.5" dy="9.2">bit_Debug</tspan></text></g>
<g id="ACT_KeyJunction" transform="translate(542.75,721.5)"><rect class="n" x="0.5" y="0.5" width="34" height="34.5" rx="1.5"/><rect class="bl" x="2.2" y="2" width="9.6" height="2.6" rx="1.3"/><rect class="ye" x="12.7" y="2" width="9.6" height="2.6" rx="1.3"/><rect class="or" x="23.2" y="2" width="9.6" height="2.6" rx="1.3"/><text class="t" x="17.5" y="17.5">ACT_KeyJ<tspan x="17.5" dy="9.2">unction</tspan></text></g>
<g id="SFI_Rabbit_Debug" transform="translate(933.8,721.5)"><rect class="n" x="0.5" y="0.5" width="34" height="34.5" rx="1.5"/><rect class="bl" x="2.2" y="2" width="30.6" height="2.6" rx="1.3"/><text class="t" x="17.5" y="17.5">SFI_Rabbit<tspan x="17.5" dy="9.2">_Debug</tspan></text></g>
<g id="NOR_Rabbit_Debug" transform="translate(1218.2,721.5)"><rect class="n" x="0.5" y="0.5" width="34" height="34.5" rx="1.5"/><rect class="bl" x="2.2" y="2" width="30.6" height="2.6" rx="1.3"/><text class="t" x="17.5" y="17.5">NOR_Rab<tspan x="17.5" dy="9.2">bit_Debug</tspan></text></g>
<g id="ACT_Rabbit_Debug" transform="translate(1431.5,721.5)"><rect class="n" x="0.5" y="0.5" width="34" height="34.5" rx="1.5"/><rect class="bl" x="2.2" y="2" width="30.6" height="2.6" rx="1.3"/><text class="t" x="17.5" y="17.5">ACT_Rabb<tspan x="17.5" dy="9.2">it_Debug</tspan></text></g>
<g id="ACT_A_Bcount_Post" transform="translate(329.45,757)"><rect class="n" x="0.5" y="0.5" width="34" height="34.5" rx="1.5"/><rect class="ye" x="2.2" y="2" width="14.8" height="2.6" rx="1.3"/><rect class="bl" x="18" y="2" width="14.8" height="2.6" rx="1.3"/><text class="t" x="17.5" y="17.5">ACT_A_Bc<tspan x="17.5" dy="9.2">ount_Post</tspan></text></g>
<g id="FinalPWCount_ADV_Fixed" transform="translate(471.65,792.5)"><rect class="n" x="0.5" y="0.5" width="34" height="34.5" rx="1.5"/><rect class="ye" x="2.2" y="2" width="14.8" height="2.6" rx="1.3"/><rect class="bl" x="18" y="2" width="14.8" height="2.6" rx="1.3"/><text class="t" x="17.5" y="12.9">FinalPWC<tspan x="17.5" dy="9.2">ount_ADV</tspan><tspan x="17.5" dy="9.2">_Fixed</tspan></text></g>
<g id="ACT_PWCount" transform="translate(542.75,792.5)"><rect class="n" x="0.5" y="0.5" width="34" height="34.5" rx="1.5"/><rect class="bl" x="2.2" y="2" width="14.8" height="2.6" rx="1.3"/><rect class="ye" x="18" y="2" width="14.8" height="2.6" rx="1.3"/><text class="t" x="17.5" y="17.5">ACT_PWC<tspan x="17.5" dy="9.2">ount</tspan></text></g>
<g id="FinalPWCount_SFI_Fixed" transform="translate(933.8,792.5)"><rect class="n" x="0.5" y="0.5" width="34" height="34.5" rx="1.5"/><rect class="bl" x="2.2" y="2" width="14.8" height="2.6" rx="1.3"/><rect class="ye" x="18" y="2" width="14.8" height="2.6" rx="1.3"/><text class="t" x="17.5" y="12.9">FinalPWC<tspan x="17.5" dy="9.2">ount_SFI_</tspan><tspan x="17.5" dy="9.2">Fixed</tspan></text></g>
<g id="FinalPWCount_NOR_Fixed" transform="translate(1218.2,792.5)"><rect class="n" x="0.5" y="0.5" width="34" height="34.5" rx="1.5"/><rect class="ye" x="2.2" y="2" width="14.8" height="2.6" rx="1.3"/><rect class="bl" x="18" y="2" width="14.8" height="2.6" rx="1.3"/><text class="t" x="17.5" y="12.9">FinalPWC<tspan x="17.5" dy="9.2">ount_NOR</tspan><tspan x="17.5" dy="9.2">_Fixed</tspan></text></g>
<g id="FinalPWCount_ACT_Fixed" transform="translate(1431.5,792.5)"><rect class="n" x="0.5" y="0.5" width="34" height="34.5" rx="1.5"/><rect class="bl" x="2.2" y="2" width="14.8" height="2.6" rx="1.3"/><rect class="ye" x="18" y="2" width="14.8" height="2.6" rx="1.3"/><text class="t" x="17.5" y="12.9">FinalPWC<tspan x="17.5" dy="9.2">ount_ACT</tspan><tspan x="17.5" dy="9.2">_Fixed</tspan></text></g>
</g>
</svg>
